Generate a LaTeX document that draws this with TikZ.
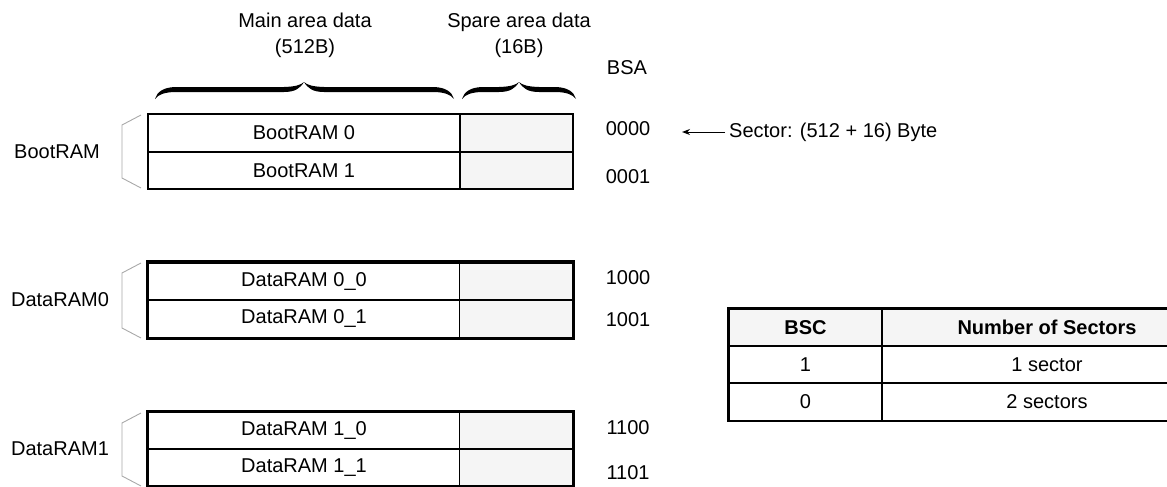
\documentclass[tikz,border=0pt]{standalone}
\usepackage{fontspec}
\setmainfont{Liberation Sans}
\usetikzlibrary{arrows.meta}
\definecolor{sparefill}{HTML}{F5F5F5}
\definecolor{brk}{HTML}{A8A8A8}
% half of a calligraphic brace: end at (0,0), tip at (#1,-17)
\newcommand{\bracehalf}[1]{%
  \fill (0,0) .. controls (2,-7) and (8,-11.5) .. (20,-12) -- ({#1-20},-12)
    .. controls ({#1-9},-12.3) and ({#1-3},-14) .. (#1,-17)
    .. controls ({#1-4},-10.5) and ({#1-9},-7) .. ({#1-20},-7) -- (20,-7)
    .. controls (10,-6.8) and (3,-4.5) .. (0,0) -- cycle;}
\begin{document}
\begin{tikzpicture}[x=1pt,y=-1pt,
  txt/.style={font=\fontsize{20}{24}\selectfont, inner sep=0pt},
  maincell/.style={draw, line width=1.3pt, minimum width=312pt, txt},
  sparecell/.style={draw, line width=1.3pt, minimum width=113pt, fill=sparefill, txt},
  tcell/.style={draw, line width=1.3pt, txt},
  bracketline/.style={draw=brk, line width=0.9pt},
  thick border/.style={line width=3.3pt}]
\clip (0,0) rectangle (1167,487);

% headers
\node[txt, align=center] (mainhd) at (305,35) {Main area data\\[2pt](512B)};
\node[txt, align=center] (sparehd) at (519,35) {Spare area data\\[2pt](16B)};
\node[txt] (bsa) at (627,68) {BSA};

% braces
\begin{scope}[shift={(155,99)}]\bracehalf{149}\end{scope}
\begin{scope}[shift={(454,99)}, xscale=-1]\bracehalf{150}\end{scope}
\begin{scope}[shift={(462,99)}]\bracehalf{57}\end{scope}
\begin{scope}[shift={(576,99)}, xscale=-1]\bracehalf{57}\end{scope}

% BootRAM
\node[maincell, minimum height=38pt] (b0) at (304,133) {BootRAM 0};
\node[sparecell, minimum height=38pt] (b0s) at (516.5,133) {};
\node[maincell, minimum height=37pt] (b1) at (304,170.5) {BootRAM 1};
\node[sparecell, minimum height=37pt] (b1s) at (516.5,170.5) {};
\node[txt] (bootlbl) at (57,152) {BootRAM};
\draw[bracketline] (141,115) -- (122,125) -- (122,178) -- (141,188);

% DataRAM0
\node[maincell, minimum height=37.5pt] (d00) at (304,281.25) {DataRAM 0\_0};
\node[sparecell, minimum height=37.5pt] (d00s) at (516.25,281.25) {};
\node[maincell, minimum height=37.5pt] (d01) at (304,318.75) {DataRAM 0\_1};
\node[sparecell, minimum height=37.5pt] (d01s) at (516.25,318.75) {};
\draw[thick border] (d00.north west) rectangle (d01s.south east);
\node[txt] (d0lbl) at (60,300) {DataRAM0};
\draw[bracketline] (141,263) -- (122,273) -- (122,328) -- (141,338);

% DataRAM1
\node[maincell, minimum height=37pt] (d10) at (304,430.5) {DataRAM 1\_0};
\node[sparecell, minimum height=37pt] (d10s) at (516.25,430.5) {};
\node[maincell, minimum height=36.5pt] (d11) at (304,467.25) {DataRAM 1\_1};
\node[sparecell, minimum height=36.5pt] (d11s) at (516.25,467.25) {};
\draw[thick border] (d10.north west) rectangle (d11s.south east);
\node[txt] (d1lbl) at (60,449) {DataRAM1};
\draw[bracketline] (141,413) -- (122,423) -- (122,476) -- (141,486);

% BSA values
\node[txt] (a0000) at (628,129) {0000};
\node[txt] (a0001) at (628,177) {0001};
\node[txt] (a1000) at (628,278) {1000};
\node[txt] (a1001) at (628,320) {1001};
\node[txt] (a1100) at (628,428) {1100};
\node[txt] (a1101) at (628,473) {1101};

% sector arrow
\node[txt, anchor=west] (sec) at (729,132) {Sector: (512 + 16) Byte};
\coordinate (tip) at (682,132);
\draw[line width=1pt, -{Stealth[length=8pt,width=6pt]}] ([xshift=-4pt]sec.west) -- (tip);

% table
\node[tcell, minimum width=153pt, minimum height=37pt, fill=sparefill, font=\fontsize{20}{24}\selectfont\bfseries] (h1) at (805.5,327.5) {BSC};
\node[tcell, minimum width=330pt, minimum height=37pt, fill=sparefill, font=\fontsize{20}{24}\selectfont\bfseries] (h2) at (1047,327.5) {Number of Sectors};
\node[tcell, minimum width=153pt, minimum height=37pt] (r1a) at (805.5,364.5) {1};
\node[tcell, minimum width=330pt, minimum height=37pt] (r1b) at (1047,364.5) {1 sector};
\node[tcell, minimum width=153pt, minimum height=38pt] (r2a) at (805.5,402) {0};
\node[tcell, minimum width=330pt, minimum height=38pt] (r2b) at (1047,402) {2 sectors};
\draw[thick border] (h1.south west) -- (h1.north west) -- (h2.north east);
\draw[thick border] (h1.north west) -- (r2a.south west);
\end{tikzpicture}
\end{document}
